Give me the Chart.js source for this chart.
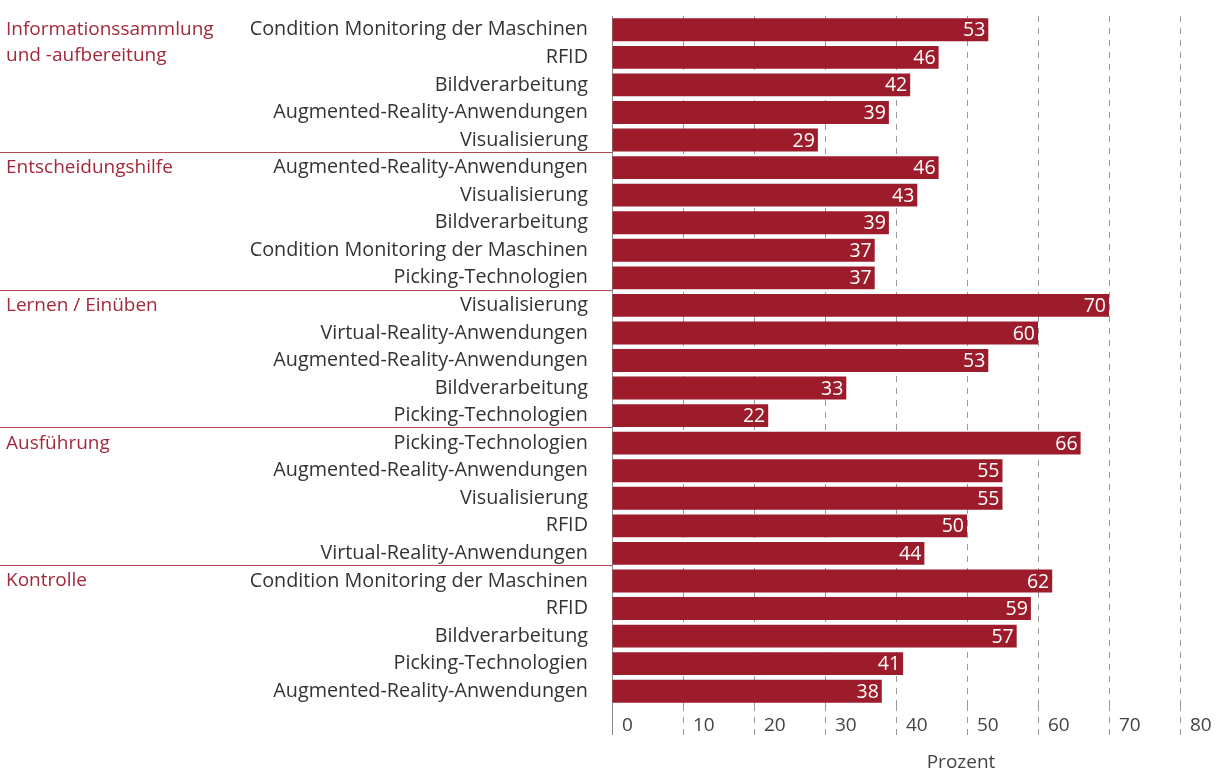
<!DOCTYPE html>
<html>
<head>
<meta charset="utf-8">
<script src="https://cdn.jsdelivr.net/npm/chart.js@4/dist/chart.umd.min.js"></script>
<style>
  html, body { margin: 0; padding: 0; background: #fff; }
  #wrap { width: 1217px; height: 773px; }
</style>
</head>
<body>
<div id="wrap"><canvas id="chart"></canvas></div>
<script>
// Gruppen (links, rot)
const groupNames = [
  ["Informationssammlung", "und -aufbereitung"],
  ["Entscheidungshilfe"],
  ["Lernen / Einüben"],
  ["Ausführung"],
  ["Kontrolle"]
];

// Technologien je Gruppe
const labelsInfo = ["Condition Monitoring der Maschinen", "RFID", "Bildverarbeitung", "Augmented-Reality-Anwendungen", "Visualisierung"];
const labelsEntscheidung = ["Augmented-Reality-Anwendungen", "Visualisierung", "Bildverarbeitung", "Condition Monitoring der Maschinen", "Picking-Technologien"];
const labelsLernen = ["Visualisierung", "Virtual-Reality-Anwendungen", "Augmented-Reality-Anwendungen", "Bildverarbeitung", "Picking-Technologien"];
const labelsAusfuehrung = ["Picking-Technologien", "Augmented-Reality-Anwendungen", "Visualisierung", "RFID", "Virtual-Reality-Anwendungen"];
const labelsKontrolle = ["Condition Monitoring der Maschinen", "RFID", "Bildverarbeitung", "Picking-Technologien", "Augmented-Reality-Anwendungen"];

// Prozentwerte je Gruppe
const valuesInfo = [53, 46, 42, 39, 29];
const valuesEntscheidung = [46, 43, 39, 37, 37];
const valuesLernen = [70, 60, 53, 33, 22];
const valuesAusfuehrung = [66, 55, 55, 50, 44];
const valuesKontrolle = [62, 59, 57, 41, 38];

// Achse
const xTicks = [0, 10, 20, 30, 40, 50, 60, 70, 80];
const xTitle = "Prozent";

const groupLabels = [labelsInfo, labelsEntscheidung, labelsLernen, labelsAusfuehrung, labelsKontrolle];
const groupValues = [valuesInfo, valuesEntscheidung, valuesLernen, valuesAusfuehrung, valuesKontrolle];

const labels = groupLabels.flat();
const values = groupValues.flat();
const groupStarts = [];
let n = 0;
groupLabels.forEach(g => { groupStarts.push(n); n += g.length; });

const FONT = '"Open Sans", "Noto Sans", sans-serif';
const RED = "#9c1c2c";

const overlay = {
  id: "overlay",
  afterDatasetsDraw(chart) {
    const { ctx } = chart;
    const meta = chart.getDatasetMeta(0);
    ctx.save();
    ctx.font = "19.5px " + FONT;
    ctx.fillStyle = "#fff";
    ctx.textAlign = "right";
    ctx.textBaseline = "middle";
    meta.data.forEach((bar, i) => ctx.fillText(String(values[i]), bar.x - 3, bar.y + 1));
    ctx.restore();
  },
  afterDraw(chart) {
    const { ctx, chartArea, scales } = chart;
    const y = scales.y, x = scales.x;
    ctx.save();
    // Trennlinien und Gruppentitel
    ctx.font = "19px " + FONT;
    ctx.textBaseline = "middle";
    ctx.textAlign = "left";
    groupStarts.forEach((start, gi) => {
      if (start > 0) {
        const ly = Math.round((y.getPixelForValue(start - 1) + y.getPixelForValue(start)) / 2 - 2) + 0.5;
        ctx.strokeStyle = "#b0485a";
        ctx.lineWidth = 1;
        ctx.beginPath();
        ctx.moveTo(0, ly);
        ctx.lineTo(chartArea.left, ly);
        ctx.stroke();
      }
      ctx.fillStyle = "#a3293b";
      const ty = y.getPixelForValue(start);
      groupNames[gi].forEach((line, li) => ctx.fillText(line, 6, ty + li * 26));
    });
    // Tick-Beschriftung
    ctx.fillStyle = "#444";
    xTicks.forEach(v => ctx.fillText(String(v), x.getPixelForValue(v) + 10, 726));
    // Achsentitel
    ctx.textAlign = "center";
    ctx.fillText(xTitle, 961, 763);
    ctx.restore();
  }
};

new Chart(document.getElementById("chart"), {
  type: "bar",
  data: {
    labels,
    datasets: [{
      data: values,
      backgroundColor: RED,
      categoryPercentage: 1,
      barPercentage: 0.83
    }]
  },
  options: {
    indexAxis: "y",
    responsive: true,
    maintainAspectRatio: false,
    animation: false,
    layout: { padding: { top: 16, right: 37, left: 0, bottom: 0 } },
    plugins: { legend: { display: false }, tooltip: { enabled: false } },
    scales: {
      x: {
        min: 0,
        max: 80,
        afterFit: s => { s.height = 68; s.paddingLeft = 0; s.paddingRight = 0; },
        ticks: { display: false, stepSize: 10 },
        border: { display: false, dash: [6, 6] },
        grid: {
          color: c => (c.index === 0 ? "rgba(0,0,0,0)" : "#999"),
          tickColor: c => (c.index === 0 ? "#888" : "#999"),
          tickBorderDash: c => (c.index === 0 ? [] : [6, 6]),
          tickLength: 30,
          lineWidth: 1
        }
      },
      y: {
        afterFit: s => { s.width = 612; s.paddingTop = 0; s.paddingBottom = 0; },
        grid: { display: false, drawTicks: false },
        border: { display: true, color: "#888", width: 1 },
        ticks: {
          padding: 24,
          color: "#333",
          font: { family: FONT, size: 19.8 },
          autoSkip: false
        }
      }
    }
  },
  plugins: [overlay]
});
</script>
</body>
</html>
